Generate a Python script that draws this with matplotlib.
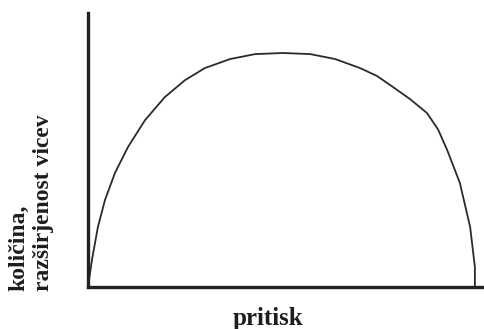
import matplotlib.pyplot as plt

# curve (arbitrary units, axes go 0..10)
pritisk = [0.0, 0.10, 0.25, 0.43, 0.68, 1.01, 1.44, 1.94, 2.45, 2.95, 3.59, 4.22,
           4.92, 5.61, 6.24, 6.87, 7.30, 7.70, 8.13, 8.56, 8.84, 9.07, 9.39, 9.65,
           9.77, 9.77]
kolicina = [0.0, 0.99, 2.19, 3.18, 4.16, 5.11, 6.09, 6.93, 7.55, 7.99, 8.32, 8.50,
            8.54, 8.50, 8.32, 7.99, 7.70, 7.30, 6.86, 6.35, 5.75, 5.00, 3.80, 2.19,
            0.73, 0.0]

xlabel = "pritisk"
ylabel = "količina,\nrazširjenost vicev"

fig = plt.figure(figsize=(4.84, 3.29), dpi=100)
ax = fig.add_axes([88 / 484, 1 - 287 / 329, 396 / 484, 274 / 329])

ax.plot(pritisk, kolicina, color="#2a2a2a", lw=1.3, solid_joinstyle="round")

ax.set_xlim(0, 10)
ax.set_ylim(0, 10)
ax.set_xticks([])
ax.set_yticks([])
for s in ["top", "right"]:
    ax.spines[s].set_visible(False)
for s in ["left", "bottom"]:
    ax.spines[s].set_linewidth(2.4)
    ax.spines[s].set_color("#222222")
    ax.spines[s].set_capstyle("projecting")

fig.text(268 / 484, 1 - 318 / 329, xlabel, ha="center", va="center",
         fontsize=18, fontweight="bold", family="Liberation Serif", color="#1e1e1e")
fig.text(31 / 484, 1 - 291 / 329, ylabel, ha="center", va="bottom", rotation=90,
         multialignment="left", fontsize=17, fontweight="bold",
         family="Liberation Serif", color="#1e1e1e", linespacing=1.2)

fig.savefig("out.png", dpi=100)
